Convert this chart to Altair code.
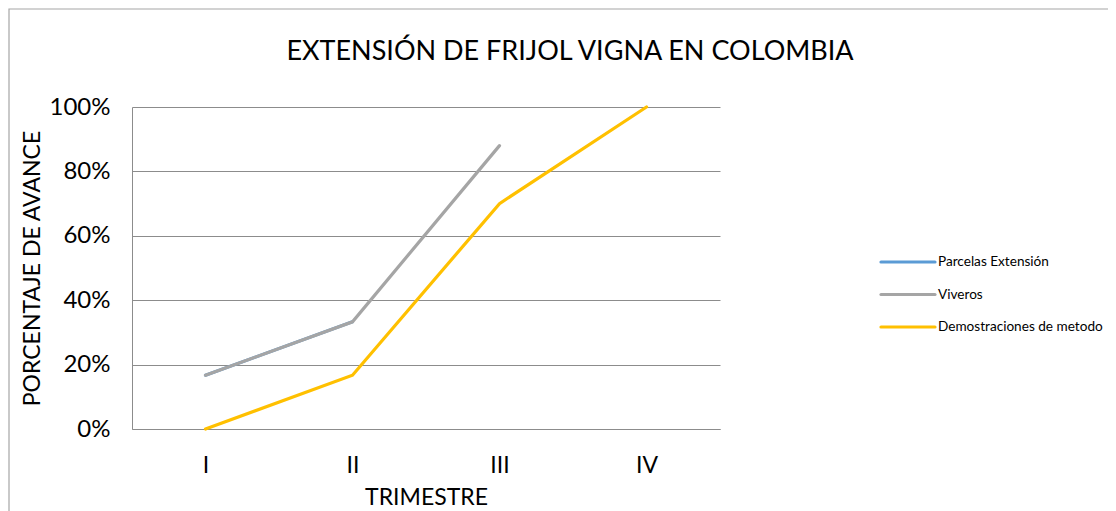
import altair as alt
import pandas as pd

trimestres = ["I", "II", "III", "IV"]
series = ["Parcelas Extensión", "Viveros", "Demostraciones de metodo"]
parcelas = [0.167, 0.333, None, None]
viveros = [0.167, 0.333, 0.88, None]
demostraciones = [0.0, 0.167, 0.70, 1.0]
colors = ["#5B9BD5", "#A5A5A5", "#FFC000"]

rows = []
for name, vals in zip(series, [parcelas, viveros, demostraciones]):
    for t, v in zip(trimestres, vals):
        rows.append({"Trimestre": t, "Serie": name, "Valor": v})
df = pd.DataFrame(rows)
legdf = pd.DataFrame({"Serie": series})

FONT = "Lato"
color_scale = alt.Scale(domain=series, range=colors)

lines = alt.Chart(df).mark_line(strokeWidth=3.2, strokeCap="round").encode(
    x=alt.X("Trimestre:O", sort=trimestres, scale=alt.Scale(padding=0.5),
            axis=alt.Axis(title="TRIMESTRE", labelAngle=0, labelFontSize=23,
                          titleFontSize=23, titleFontWeight="normal",
                          labelPadding=25, titlePadding=9, ticks=False,
                          domainColor="#8c8c8c", labelColor="#000", titleColor="#000",
                          labelFont=FONT, titleFont=FONT)),
    y=alt.Y("Valor:Q", scale=alt.Scale(domain=[0, 1]),
            axis=alt.Axis(title="PORCENTAJE DE AVANCE", format=".0%", values=[0, 0.2, 0.4, 0.6, 0.8, 1.0],
                          labelFontSize=24, titleFontSize=23, titleFontWeight="normal",
                          labelPadding=22, ticks=False, grid=True, gridColor="#8c8c8c",
                          domainColor="#8c8c8c", labelColor="#000", titleColor="#000",
                          titleX=-100, titleY=161, titleAlign="center", titleBaseline="middle",
                          labelFont=FONT, titleFont=FONT)),
    color=alt.Color("Serie:N", sort=series, scale=color_scale, legend=None),
    order=alt.Order("Serie:N"),
)

leg_y = alt.Y("Serie:N", sort=series,
              scale=alt.Scale(domain=series, range=[138.75, 236.25], type="point", padding=0.5),
              axis=None)

leg_sym = alt.Chart(legdf).mark_rule(strokeWidth=3.2, strokeCap="round").encode(
    x=alt.value(749), x2=alt.value(803), y=leg_y,
    color=alt.Color("Serie:N", sort=series, scale=color_scale, legend=None),
)
leg_txt = alt.Chart(legdf).mark_text(
    align="left", baseline="middle", fontSize=13.6, font=FONT, color="#000"
).encode(x=alt.value(806), y=leg_y, text="Serie:N")

frame = alt.Chart(pd.DataFrame({"a": [0]})).mark_rect(
    fill=None, stroke="#a6a6a6", strokeWidth=1.2
).encode(x=alt.value(-123), x2=alt.value(1100), y=alt.value(-98), y2=alt.value(600))

title = alt.Chart(pd.DataFrame({"t": ["EXTENSIÓN DE FRIJOL VIGNA EN COLOMBIA"]})).mark_text(
    fontSize=27, font=FONT, color="#000", align="center", baseline="middle"
).encode(text="t:N", x=alt.value(438), y=alt.value(-55))

legend = alt.layer(leg_sym, leg_txt)

chart = alt.layer(frame, lines, legend, title).resolve_scale(y="independent").properties(
    width=588, height=322,
    autosize=alt.AutoSizeParams(type="none"),
    padding={"left": 124, "top": 99, "right": 388, "bottom": 82},
).configure_view(stroke=None)

chart.save("out.html", embed_options={"renderer": "svg", "actions": False})
